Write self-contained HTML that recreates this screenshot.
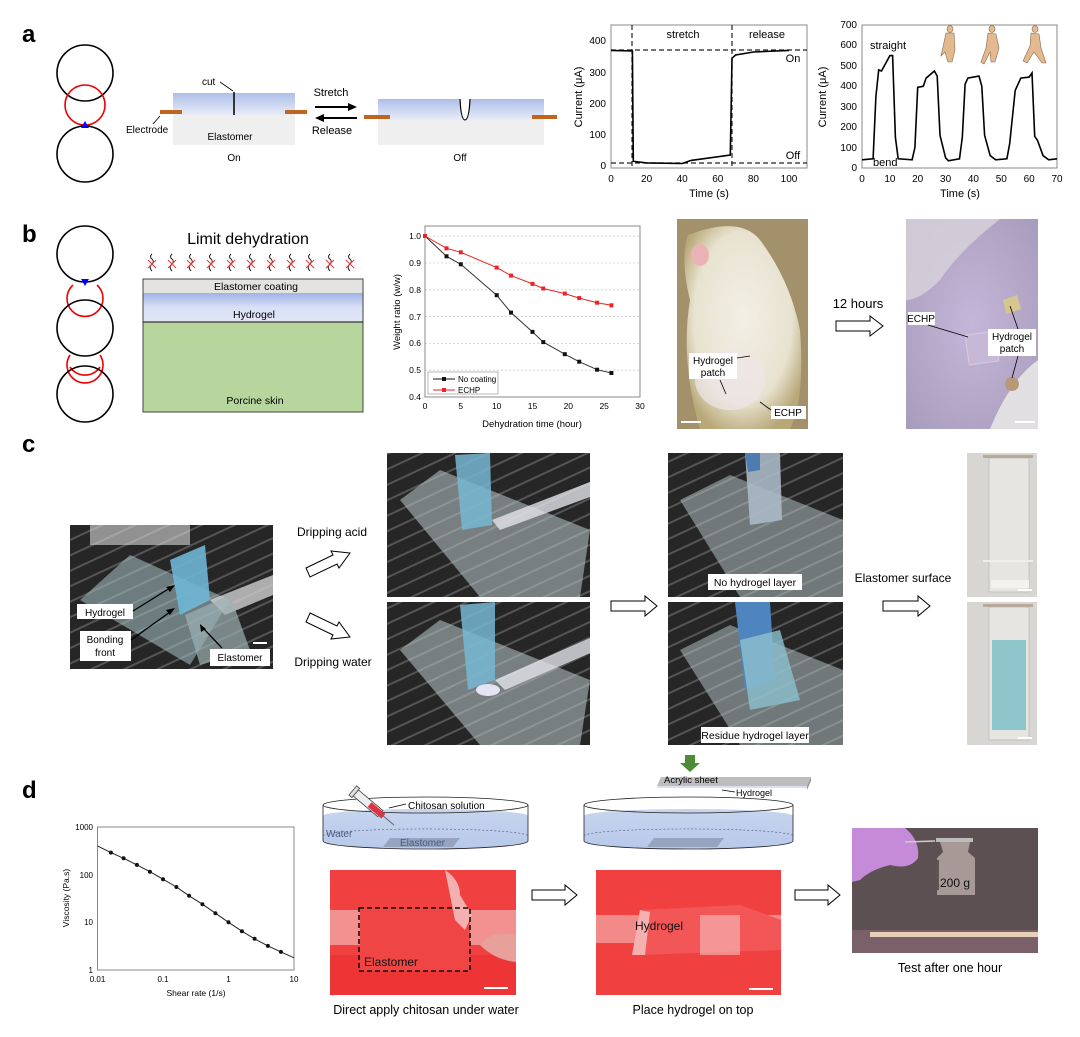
<!DOCTYPE html>
<html><head><meta charset="utf-8"><style>
html,body{margin:0;padding:0;background:#fff;}
svg{display:block;font-family:"Liberation Sans",Arial,sans-serif;}
</style></head><body>
<svg width="1080" height="1037" viewBox="0 0 1080 1037" xmlns="http://www.w3.org/2000/svg">
<defs>
<linearGradient id="gel" x1="0" y1="0" x2="0" y2="1"><stop offset="0" stop-color="#aebfe8"/><stop offset="1" stop-color="#e8ecf8"/></linearGradient>
<linearGradient id="gel2" x1="0" y1="0" x2="0" y2="1"><stop offset="0" stop-color="#9fb3e6"/><stop offset="0.5" stop-color="#d9e0f5"/><stop offset="1" stop-color="#e3e7f7"/></linearGradient>
<pattern id="stripes" width="14" height="14" patternUnits="userSpaceOnUse" patternTransform="rotate(-25)"><rect width="14" height="14" fill="#262626"/><rect width="14" height="2" fill="#555"/></pattern>
<radialGradient id="rat" cx="0.5" cy="0.45" r="0.6"><stop offset="0" stop-color="#f2efe6"/><stop offset="0.7" stop-color="#e8e2d0"/><stop offset="1" stop-color="#b8a878"/></radialGradient>
<radialGradient id="skin" cx="0.5" cy="0.5" r="0.7"><stop offset="0" stop-color="#c4b6d8"/><stop offset="1" stop-color="#a89cbc"/></radialGradient>
<linearGradient id="water" x1="0" y1="0" x2="0" y2="1"><stop offset="0" stop-color="#c9d6ee"/><stop offset="1" stop-color="#b7c8ea"/></linearGradient>
</defs>

<!-- ===== PANEL A ===== -->
<text x="22" y="42" font-size="24" font-weight="bold">a</text>
<circle cx="85" cy="73" r="28" fill="none" stroke="#000" stroke-width="1.6"/>
<circle cx="85" cy="105" r="20" fill="none" stroke="#e00" stroke-width="1.6"/>
<circle cx="85" cy="154" r="28" fill="none" stroke="#000" stroke-width="1.6"/>
<polygon points="81,128 89,128 85,121" fill="#00f"/>

<rect x="173" y="93" width="122" height="22" fill="url(#gel)"/>
<rect x="173" y="115" width="122" height="30" fill="#efefef"/>
<rect x="160" y="110" width="22" height="4" fill="#c0641e"/>
<rect x="285" y="110" width="22" height="4" fill="#c0641e"/>
<line x1="234" y1="92" x2="234" y2="115" stroke="#000" stroke-width="1.5"/>
<text x="202" y="85" font-size="10">cut</text>
<line x1="220" y1="82" x2="233" y2="91" stroke="#000" stroke-width="0.8"/>
<text x="126" y="133" font-size="10">Electrode</text>
<line x1="153" y1="124" x2="160" y2="116" stroke="#000" stroke-width="0.8"/>
<text x="230" y="140" font-size="10" text-anchor="middle">Elastomer</text>
<text x="234" y="161" font-size="10" text-anchor="middle">On</text>
<text x="331" y="96" font-size="11" text-anchor="middle">Stretch</text>
<line x1="315" y1="107" x2="350" y2="107" stroke="#000" stroke-width="2"/><polygon points="348,103 357,107 348,111"/>
<line x1="322" y1="118" x2="357" y2="118" stroke="#000" stroke-width="2"/><polygon points="324,114 315,118 324,122"/>
<text x="332" y="134" font-size="11" text-anchor="middle">Release</text>
<rect x="378" y="99" width="166" height="21" fill="url(#gel)"/>
<rect x="378" y="120" width="166" height="25" fill="#efefef"/>
<rect x="364" y="115" width="26" height="4" fill="#c0641e"/>
<rect x="532" y="115" width="25" height="4" fill="#c0641e"/>
<path d="M460,99 Q461,120 465,120 Q469,120 470,99" fill="#fff" stroke="#000" stroke-width="1.2"/>
<text x="460" y="161" font-size="10" text-anchor="middle">Off</text>

<!-- chart a1 -->
<g font-size="10">
<rect x="611" y="25" width="196" height="143" fill="none" stroke="#888" stroke-width="1"/>
<g text-anchor="middle"><text x="611" y="182">0</text><text x="646.6" y="182">20</text><text x="682.2" y="182">40</text><text x="717.8" y="182">60</text><text x="753.4" y="182">80</text><text x="789" y="182">100</text></g>
<g text-anchor="end"><text x="606" y="169">0</text><text x="606" y="138">100</text><text x="606" y="107">200</text><text x="606" y="76">300</text><text x="606" y="44">400</text></g>
<text x="709" y="197" font-size="11" text-anchor="middle">Time (s)</text>
<text transform="translate(582,97) rotate(-90)" font-size="11" text-anchor="middle">Current (μA)</text>
<line x1="632" y1="25" x2="632" y2="168" stroke="#222" stroke-dasharray="5,3" stroke-width="1.2"/>
<line x1="732" y1="25" x2="732" y2="168" stroke="#222" stroke-dasharray="5,3" stroke-width="1.2"/>
<line x1="611" y1="50" x2="807" y2="50" stroke="#222" stroke-dasharray="5,3" stroke-width="1.2"/>
<line x1="611" y1="163" x2="807" y2="163" stroke="#222" stroke-dasharray="5,3" stroke-width="1.2"/>
<polyline fill="none" stroke="#000" stroke-width="1.6" points="611,50.4 632.4,51 633.3,161.3 646.6,162.9 682.2,163.5 691.1,160.4 730.3,155 732,58.2 735.6,55 753.4,52 789,50.4"/>
<text x="683" y="38" font-size="11" text-anchor="middle">stretch</text>
<text x="767" y="38" font-size="11" text-anchor="middle">release</text>
<text x="793" y="62" font-size="11" text-anchor="middle">On</text>
<text x="793" y="159" font-size="11" text-anchor="middle">Off</text>
</g>

<!-- chart a2 -->
<g font-size="10">
<rect x="862" y="25" width="195" height="143" fill="none" stroke="#888" stroke-width="1"/>
<g text-anchor="middle"><text x="862" y="182">0</text><text x="889.9" y="182">10</text><text x="917.7" y="182">20</text><text x="945.6" y="182">30</text><text x="973.4" y="182">40</text><text x="1001.3" y="182">50</text><text x="1029.2" y="182">60</text><text x="1057" y="182">70</text></g>
<g text-anchor="end"><text x="857" y="171">0</text><text x="857" y="151">100</text><text x="857" y="130">200</text><text x="857" y="110">300</text><text x="857" y="89">400</text><text x="857" y="69">500</text><text x="857" y="48">600</text><text x="857" y="28">700</text></g>
<text x="960" y="197" font-size="11" text-anchor="middle">Time (s)</text>
<text transform="translate(826,97) rotate(-90)" font-size="11" text-anchor="middle">Current (μA)</text>
<polyline fill="none" stroke="#000" stroke-width="1.6" points="862,159.8 873.1,158.8 875.9,96.5 878.7,69.9 881.5,71 884.3,65.9 889.9,55.6 892.6,55.6 895.4,137.4 898.2,158.8 912.1,159.8 914.9,147.6 917.7,87.3 923.3,86.3 926.1,78.1 934.4,71 937.2,76.1 940,135.3 945.6,157.8 948.4,160.8 959.5,158.8 962.3,137.4 965.1,84.2 967.9,78.1 979,76.1 981.8,86.3 984.6,135.3 990.2,155.7 995.7,159.8 1006.9,158.8 1009.7,143.5 1015.2,90.4 1020.8,78.1 1029.2,77.1 1032,73 1034.7,136.3 1037.5,140.4 1043.1,155.7 1048.7,159.8 1057,158.8"/>
<text x="870" y="49" font-size="11">straight</text>
<text x="873" y="166" font-size="11">bend</text>
<g fill="#e3b98f" stroke="#8a6a4a" stroke-width="0.6">
<ellipse cx="950" cy="29" rx="3" ry="3.5"/><path d="M946,33 L954,33 L955,50 L952,62 L948,62 L945,52 L941,56 Z"/>
<ellipse cx="992" cy="29" rx="3" ry="3.5"/><path d="M988,33 L996,34 L999,48 L995,62 L991,62 L990,52 L984,64 L981,62 L986,48 Z"/>
<ellipse cx="1035" cy="29" rx="3" ry="3.5"/><path d="M1031,33 L1039,34 L1041,48 L1046,63 L1042,63 L1034,52 L1027,63 L1023,61 L1030,46 Z"/>
</g>
</g>

<!-- ===== PANEL B ===== -->
<text x="22" y="242" font-size="24" font-weight="bold">b</text>
<circle cx="85" cy="254" r="28" fill="none" stroke="#000" stroke-width="1.6"/>
<path d="M97,285 A18,18 0 1 1 73,285" fill="none" stroke="#e00" stroke-width="1.6"/>
<circle cx="85" cy="328" r="28" fill="none" stroke="#000" stroke-width="1.6"/>
<path d="M100,355 A18,18 0 1 1 70,355 M70,367 A18,18 0 0 0 100,367" fill="none" stroke="#e00" stroke-width="1.6"/>
<circle cx="85" cy="394" r="28" fill="none" stroke="#000" stroke-width="1.6"/>
<polygon points="81,279 89,279 85,286" fill="#00f"/>
<text x="248" y="244" font-size="16" text-anchor="middle">Limit dehydration</text>
<g fill="none" stroke-width="1">
<g stroke="#222"><path d="M152,254 q-3,3 0,5 q3,3 -1,6 q-2,3 1,6"/><path d="M172,254 q-3,3 0,5 q3,3 -1,6 q-2,3 1,6"/><path d="M191,254 q-3,3 0,5 q3,3 -1,6 q-2,3 1,6"/><path d="M211,254 q-3,3 0,5 q3,3 -1,6 q-2,3 1,6"/><path d="M231,254 q-3,3 0,5 q3,3 -1,6 q-2,3 1,6"/><path d="M251,254 q-3,3 0,5 q3,3 -1,6 q-2,3 1,6"/><path d="M271,254 q-3,3 0,5 q3,3 -1,6 q-2,3 1,6"/><path d="M291,254 q-3,3 0,5 q3,3 -1,6 q-2,3 1,6"/><path d="M310,254 q-3,3 0,5 q3,3 -1,6 q-2,3 1,6"/><path d="M330,254 q-3,3 0,5 q3,3 -1,6 q-2,3 1,6"/><path d="M350,254 q-3,3 0,5 q3,3 -1,6 q-2,3 1,6"/></g>
<g stroke="#e33"><path d="M148,260 l8,8 M156,260 l-8,8"/><path d="M168,260 l8,8 M176,260 l-8,8"/><path d="M187,260 l8,8 M195,260 l-8,8"/><path d="M207,260 l8,8 M215,260 l-8,8"/><path d="M227,260 l8,8 M235,260 l-8,8"/><path d="M247,260 l8,8 M255,260 l-8,8"/><path d="M267,260 l8,8 M275,260 l-8,8"/><path d="M287,260 l8,8 M295,260 l-8,8"/><path d="M306,260 l8,8 M314,260 l-8,8"/><path d="M326,260 l8,8 M334,260 l-8,8"/><path d="M346,260 l8,8 M354,260 l-8,8"/></g>
</g>
<rect x="143" y="279" width="220" height="14" fill="#e4e3df"/>
<rect x="143" y="293" width="220" height="29" fill="url(#gel2)"/>
<rect x="143" y="322" width="220" height="90" fill="#b6d69d"/>
<rect x="143" y="279" width="220" height="133" fill="none" stroke="#444" stroke-width="1"/>
<line x1="143" y1="322" x2="363" y2="322" stroke="#333" stroke-width="1.2"/>
<text x="256" y="290" font-size="10.5" text-anchor="middle">Elastomer coating</text>
<text x="254" y="318" font-size="10.5" text-anchor="middle">Hydrogel</text>
<text x="255" y="404" font-size="10.5" text-anchor="middle">Porcine skin</text>

<!-- chart b -->
<g font-size="8.5">
<g stroke="#ccc" stroke-dasharray="2,2" stroke-width="0.8"><line x1="425" y1="370.2" x2="640" y2="370.2"/><line x1="425" y1="343.4" x2="640" y2="343.4"/><line x1="425" y1="316.6" x2="640" y2="316.6"/><line x1="425" y1="289.8" x2="640" y2="289.8"/><line x1="425" y1="263" x2="640" y2="263"/><line x1="425" y1="236.2" x2="640" y2="236.2"/></g>
<rect x="425" y="226" width="215" height="171" fill="none" stroke="#888" stroke-width="1"/>
<g text-anchor="end"><text x="421" y="400">0.4</text><text x="421" y="373">0.5</text><text x="421" y="346">0.6</text><text x="421" y="320">0.7</text><text x="421" y="293">0.8</text><text x="421" y="266">0.9</text><text x="421" y="239">1.0</text></g>
<g text-anchor="middle"><text x="425" y="409">0</text><text x="460.8" y="409">5</text><text x="496.7" y="409">10</text><text x="532.5" y="409">15</text><text x="568.3" y="409">20</text><text x="604.2" y="409">25</text><text x="640" y="409">30</text></g>
<text x="532" y="427" font-size="9.5" text-anchor="middle">Dehydration time (hour)</text>
<text transform="translate(400,312) rotate(-90)" font-size="9.5" text-anchor="middle">Weight ratio (w/w)</text>
<polyline fill="none" stroke="#333" stroke-width="1" points="425,236 446.5,256.3 460.8,264.3 496.7,295.2 511,312.6 532.5,331.9 543.3,342.1 564.8,354.2 579.2,361.7 597.1,369.7 611.4,373"/>
<polyline fill="none" stroke="#e22" stroke-width="1" points="425,236 446.5,248.3 460.8,252.3 496.7,267.6 511,275.6 532.5,283.9 543.3,288.5 564.8,293.6 579.2,298.1 597.1,302.7 611.4,305.3"/>
<g fill="#111"><rect x="444.5" y="254.3" width="4" height="4"/><rect x="458.8" y="262.3" width="4" height="4"/><rect x="494.7" y="293.2" width="4" height="4"/><rect x="509" y="310.6" width="4" height="4"/><rect x="530.5" y="329.9" width="4" height="4"/><rect x="541.3" y="340.1" width="4" height="4"/><rect x="562.8" y="352.2" width="4" height="4"/><rect x="577.2" y="359.7" width="4" height="4"/><rect x="595.1" y="367.7" width="4" height="4"/><rect x="609.4" y="371" width="4" height="4"/></g>
<g fill="#e22"><rect x="423" y="234" width="4" height="4"/><rect x="444.5" y="246.3" width="4" height="4"/><rect x="458.8" y="250.3" width="4" height="4"/><rect x="494.7" y="265.6" width="4" height="4"/><rect x="509" y="273.6" width="4" height="4"/><rect x="530.5" y="281.9" width="4" height="4"/><rect x="541.3" y="286.5" width="4" height="4"/><rect x="562.8" y="291.6" width="4" height="4"/><rect x="577.2" y="296.1" width="4" height="4"/><rect x="595.1" y="300.7" width="4" height="4"/><rect x="609.4" y="303.3" width="4" height="4"/></g>
<rect x="428" y="372" width="70" height="22" fill="#fff" stroke="#888" stroke-width="0.6"/>
<line x1="433" y1="379" x2="455" y2="379" stroke="#111"/><rect x="442" y="377" width="4" height="4" fill="#111"/>
<text x="458" y="382" font-size="8">No coating</text>
<line x1="433" y1="390" x2="455" y2="390" stroke="#e22"/><rect x="442" y="388" width="4" height="4" fill="#e22"/>
<text x="458" y="393" font-size="8">ECHP</text>
</g>

<!-- b photos -->
<rect x="677" y="219" width="131" height="210" fill="#a2916a"/>
<path d="M688,235 Q740,215 760,240 Q790,280 800,330 Q805,400 790,429 L700,429 Q680,360 690,300 Q680,260 688,235 Z" fill="url(#rat)"/>
<ellipse cx="700" cy="255" rx="9" ry="11" fill="#e9b3b5"/>
<ellipse cx="730" cy="380" rx="35" ry="30" fill="#eee6e8" opacity="0.7"/>
<rect x="689" y="353" width="48" height="26" fill="#fff"/>
<text x="713" y="364" font-size="10" text-anchor="middle">Hydrogel</text>
<text x="713" y="376" font-size="10" text-anchor="middle">patch</text>
<line x1="737" y1="358" x2="750" y2="356" stroke="#000" stroke-width="0.8"/>
<line x1="720" y1="380" x2="726" y2="394" stroke="#000" stroke-width="0.8"/>
<rect x="771" y="406" width="35" height="13" fill="#fff"/>
<text x="788" y="416" font-size="10" text-anchor="middle">ECHP</text>
<line x1="760" y1="402" x2="771" y2="410" stroke="#000" stroke-width="0.8"/>
<rect x="681" y="421" width="20" height="2" fill="#fff"/>

<text x="858" y="308" font-size="13" text-anchor="middle">12 hours</text>
<path d="M836,321 L870,321 L870,316 L883,326 L870,336 L870,331 L836,331 Z" fill="#fff" stroke="#000" stroke-width="1"/>

<rect x="906" y="219" width="132" height="210" fill="url(#skin)"/>
<path d="M906,219 L1000,219 Q960,250 940,280 Q920,300 906,300 Z" fill="#d8d4dc" opacity="0.8"/>
<path d="M990,429 Q1010,380 1038,360 L1038,429 Z" fill="#e8e6e6" opacity="0.9"/>
<path d="M1003,300 l14,-5 l4,14 l-15,5 Z" fill="#d6c690"/>
<rect x="967" y="333" width="30" height="30" fill="#c8b8d8" stroke="#d9c9e0" transform="rotate(-8 982 348)"/>
<circle cx="1012" cy="384" r="7" fill="#b89a7a"/>
<rect x="908" y="312" width="27" height="13" fill="#fff"/>
<text x="921" y="322" font-size="10" text-anchor="middle">ECHP</text>
<line x1="928" y1="325" x2="968" y2="337" stroke="#000" stroke-width="0.8"/>
<rect x="988" y="329" width="48" height="27" fill="#fff"/>
<text x="1012" y="340" font-size="10" text-anchor="middle">Hydrogel</text>
<text x="1012" y="352" font-size="10" text-anchor="middle">patch</text>
<line x1="1010" y1="306" x2="1018" y2="329" stroke="#000" stroke-width="0.8"/>
<line x1="1018" y1="356" x2="1012" y2="378" stroke="#000" stroke-width="0.8"/>
<rect x="1015" y="421" width="20" height="2" fill="#fff"/>

<!-- ===== PANEL C ===== -->
<text x="22" y="452" font-size="24" font-weight="bold">c</text>
<!-- left photo -->
<rect x="70" y="525" width="203" height="144" fill="url(#stripes)"/>
<rect x="90" y="525" width="100" height="20" fill="#d8d8d8" opacity="0.6"/>
<polygon points="80,600 130,555 230,600 190,665" fill="#a6c2c8" opacity="0.55"/>
<polygon points="210,600 273,575 273,595 225,615" fill="#d0d0d0" opacity="0.8"/>
<polygon points="170,560 205,545 210,600 180,615" fill="#6fb6d6" opacity="0.9"/>
<polygon points="185,615 230,595 250,650 200,665" fill="#9db0b4" opacity="0.7"/>
<rect x="77" y="604" width="56" height="15" fill="#fff"/><text x="105" y="616" font-size="10" text-anchor="middle">Hydrogel</text>
<rect x="80" y="631" width="51" height="30" fill="#fff"/><text x="105" y="643" font-size="10" text-anchor="middle">Bonding</text><text x="105" y="656" font-size="10" text-anchor="middle">front</text>
<rect x="210" y="649" width="60" height="17" fill="#fff"/><text x="240" y="661" font-size="10" text-anchor="middle">Elastomer</text>
<g stroke="#000" stroke-width="1.3"><line x1="133" y1="611" x2="170" y2="588"/><line x1="131" y1="640" x2="170" y2="612"/><line x1="222" y1="648" x2="203" y2="628"/></g>
<polygon points="175,585 166,587 170,592"/><polygon points="175,608 166,610 170,615"/><polygon points="200,624 201,632 206,629"/>
<rect x="253" y="642" width="14" height="2" fill="#fff"/>

<text x="332" y="536" font-size="12" text-anchor="middle">Dripping acid</text>
<text x="333" y="666" font-size="12" text-anchor="middle">Dripping water</text>
<path d="M306,568 L333,555 L331,551 L350,553 L339,568 L337,564 L310,577 Z" fill="#fff" stroke="#000" stroke-width="1"/>
<path d="M310,613 L337,626 L339,622 L350,637 L331,639 L333,635 L306,622 Z" fill="#fff" stroke="#000" stroke-width="1"/>

<!-- middle column -->
<rect x="387" y="453" width="203" height="144" fill="url(#stripes)"/>
<polygon points="400,500 440,470 590,530 580,597 480,597" fill="#b9c9cc" opacity="0.55"/>
<polygon points="455,455 490,453 492,525 462,530" fill="#77b7d3" opacity="0.85"/>
<polygon points="492,520 590,482 590,497 500,530" fill="#e2e4ea" opacity="0.8"/>
<rect x="387" y="602" width="203" height="143" fill="url(#stripes)"/>
<polygon points="400,650 440,620 590,680 580,745 480,745" fill="#b9c9cc" opacity="0.55"/>
<polygon points="460,605 495,602 495,680 468,690" fill="#77b7d3" opacity="0.85"/>
<polygon points="495,680 590,638 590,653 505,690" fill="#e2e4ea" opacity="0.8"/>
<ellipse cx="488" cy="690" rx="12" ry="6" fill="#eef" opacity="0.9"/>

<path d="M611,601 L645,601 L645,596 L657,606 L645,616 L645,611 L611,611 Z" fill="#fff" stroke="#000" stroke-width="1"/>

<!-- third column -->
<rect x="668" y="453" width="175" height="144" fill="url(#stripes)"/>
<polygon points="680,500 730,475 843,520 843,597 740,597" fill="#b9c9cc" opacity="0.5"/>
<polygon points="745,453 780,453 782,520 750,525" fill="#aab9c6" opacity="0.9"/>
<polygon points="745,453 760,453 760,470 748,472" fill="#4d7cb0"/>
<rect x="708" y="574" width="94" height="16" fill="#fff"/><text x="755" y="586" font-size="10.5" text-anchor="middle">No hydrogel layer</text>
<rect x="668" y="602" width="175" height="143" fill="url(#stripes)"/>
<polygon points="680,650 730,625 843,670 843,745 740,745" fill="#b9c9cc" opacity="0.5"/>
<polygon points="735,602 770,602 775,680 745,690" fill="#4f85bf"/>
<polygon points="740,640 780,630 800,700 750,710" fill="#8cc0cf" opacity="0.8"/>
<rect x="701" y="727" width="108" height="16" fill="#fff"/><text x="755" y="739" font-size="10.5" text-anchor="middle">Residue hydrogel layer</text>

<text x="903" y="582" font-size="12" text-anchor="middle">Elastomer surface</text>
<path d="M883,601 L918,601 L918,596 L930,606 L918,616 L918,611 L883,611 Z" fill="#fff" stroke="#000" stroke-width="1"/>

<!-- far right -->
<rect x="967" y="453" width="70" height="144" fill="#d7d6d2"/>
<rect x="989" y="458" width="40" height="134" fill="#e6e5e2" stroke="#bdbcb8" stroke-width="0.8"/>
<rect x="983" y="455" width="50" height="3" fill="#b8aa98"/>
<rect x="983" y="560" width="50" height="2" fill="#eee"/>
<rect x="991" y="580" width="38" height="8" fill="#f2f2ee"/>
<rect x="1018" y="589" width="14" height="2" fill="#fff"/>
<rect x="967" y="602" width="70" height="143" fill="#d7d6d2"/>
<rect x="989" y="607" width="40" height="133" fill="#e6e5e2" stroke="#bdbcb8" stroke-width="0.8"/>
<rect x="983" y="604" width="50" height="3" fill="#b8aa98"/>
<rect x="992" y="640" width="34" height="90" fill="#8fc6cc"/>
<rect x="1018" y="737" width="14" height="2" fill="#fff"/>

<!-- ===== PANEL D ===== -->
<text x="22" y="798" font-size="24" font-weight="bold">d</text>
<g font-size="8">
<rect x="97.5" y="827" width="196.5" height="143" fill="none" stroke="#888" stroke-width="1"/>
<g text-anchor="end"><text x="93" y="973">1</text><text x="93" y="925">10</text><text x="93" y="878">100</text><text x="93" y="830">1000</text></g>
<g text-anchor="middle"><text x="97.5" y="982">0.01</text><text x="163" y="982">0.1</text><text x="228.5" y="982">1</text><text x="294" y="982">10</text></g>
<text x="196" y="996" font-size="8.5" text-anchor="middle">Shear rate (1/s)</text>
<text transform="translate(69,898) rotate(-90)" font-size="8.5" text-anchor="middle">Viscosity (Pa.s)</text>
<polyline fill="none" stroke="#222" stroke-width="1" points="97.5,845.9 110.9,852.6 123.6,858.3 136.9,864.9 149.9,871.7 163,879.2 176.4,887 189.1,895.8 202.4,904.2 215.4,913.2 228.5,922.3 241.9,931.2 254.6,938.8 267.9,945.9 280.9,951.9 294,957.8"/>
<g fill="#111"><circle cx="110.9" cy="852.6" r="2"/><circle cx="123.6" cy="858.3" r="2"/><circle cx="136.9" cy="864.9" r="2"/><circle cx="149.9" cy="871.7" r="2"/><circle cx="163" cy="879.2" r="2"/><circle cx="176.4" cy="887" r="2"/><circle cx="189.1" cy="895.8" r="2"/><circle cx="202.4" cy="904.2" r="2"/><circle cx="215.4" cy="913.2" r="2"/><circle cx="228.5" cy="922.3" r="2"/><circle cx="241.9" cy="931.2" r="2"/><circle cx="254.6" cy="938.8" r="2"/><circle cx="267.9" cy="945.9" r="2"/><circle cx="280.9" cy="951.9" r="2"/></g>
</g>

<!-- dish 1 -->
<path d="M323,805 L323,841 A102,8 0 0 0 528,841 L528,805 Z" fill="url(#water)"/>
<path d="M323,816 A102,7 0 0 1 528,816 L528,805 A102,8 0 0 0 323,805 Z" fill="#fff"/>
<ellipse cx="425.5" cy="805" rx="102.5" ry="8" fill="none" stroke="#222" stroke-width="0.8"/>
<path d="M323,805 L323,841 A102,8 0 0 0 528,841 L528,805" fill="none" stroke="#222" stroke-width="0.8"/>
<path d="M323,836 A102,7 0 0 1 528,836" fill="none" stroke="#556" stroke-width="0.6" stroke-dasharray="2,2"/>
<polygon points="383,847 453,847 460,838 390,838" fill="#96a4bf"/>
<text x="326" y="837" font-size="10" fill="#4a5a80">Water</text>
<text x="400" y="846" font-size="10" fill="#4a5a80">Elastomer</text>
<g transform="translate(388,820) rotate(40)">
<rect x="-42" y="-4" width="32" height="8" fill="#eee" stroke="#444" stroke-width="0.8"/>
<rect x="-24" y="-3" width="18" height="6" fill="#d34"/>
<rect x="-46" y="-6" width="4" height="12" fill="#ddd" stroke="#444" stroke-width="0.8"/>
<line x1="-10" y1="0" x2="8" y2="0" stroke="#666" stroke-width="1"/>
</g>
<line x1="389" y1="808" x2="406" y2="804" stroke="#000" stroke-width="0.8"/>
<text x="408" y="809" font-size="10">Chitosan solution</text>

<!-- photo d1 -->
<rect x="330" y="870" width="186" height="125" fill="#f04040"/>
<rect x="330" y="910" width="186" height="35" fill="#f39090"/>
<rect x="330" y="955" width="186" height="40" fill="#ee3535"/>
<rect x="360" y="908" width="110" height="63" fill="#f04545"/>
<path d="M445,870 Q460,880 460,895 L472,915 L465,930 L455,920 Z" fill="#f4b0b0"/>
<path d="M480,945 Q490,930 516,935 L516,962 Q495,960 480,945 Z" fill="#e7a19a"/>
<rect x="359" y="908" width="111" height="63" fill="none" stroke="#111" stroke-width="1.6" stroke-dasharray="5,3"/>
<text x="364" y="966" font-size="12" fill="#111">Elastomer</text>
<rect x="484" y="987" width="24" height="2" fill="#fff"/>
<text x="426" y="1014" font-size="12.5" text-anchor="middle">Direct apply chitosan under water</text>

<path d="M532,890 L565,890 L565,885 L577,895 L565,905 L565,900 L532,900 Z" fill="#fff" stroke="#000" stroke-width="1"/>

<!-- dish 2 -->
<polygon points="685,755 695,755 695,763 700,763 690,772 680,763 685,763" fill="#4f8a34"/>
<polygon points="661,777 811,777 807,786 657,786" fill="#bdbdbd"/>
<polygon points="811,777 811,781 807,790 807,786" fill="#999"/>
<rect x="657" y="786" width="150" height="2" fill="#d8e0f2"/>
<text x="664" y="783" font-size="9.5">Acrylic sheet</text>
<line x1="722" y1="790" x2="735" y2="792" stroke="#000" stroke-width="0.8"/>
<text x="736" y="796" font-size="9">Hydrogel</text>
<path d="M584,805 L584,841 A104,8 0 0 0 793,841 L793,805 Z" fill="url(#water)"/>
<path d="M584,816 A104,7 0 0 1 793,816 L793,805 A104,8 0 0 0 584,805 Z" fill="#fff"/>
<ellipse cx="688.5" cy="805" rx="104.5" ry="8" fill="none" stroke="#222" stroke-width="0.8"/>
<path d="M584,805 L584,841 A104,8 0 0 0 793,841 L793,805" fill="none" stroke="#222" stroke-width="0.8"/>
<path d="M584,836 A104,7 0 0 1 793,836" fill="none" stroke="#556" stroke-width="0.6" stroke-dasharray="2,2"/>
<polygon points="647,847 717,847 724,838 654,838" fill="#96a4bf"/>

<!-- photo d2 -->
<rect x="596" y="870" width="185" height="125" fill="#f04040"/>
<rect x="596" y="915" width="185" height="28" fill="#f28a8a"/>
<polygon points="640,910 740,905 781,920 781,950 640,955" fill="#f25656"/>
<polygon points="632,955 640,910 650,912 645,955" fill="#f6b0b0"/>
<rect x="700" y="915" width="40" height="40" fill="#f6c0c0" opacity="0.6"/>
<text x="635" y="930" font-size="12" fill="#111">Hydrogel</text>
<rect x="749" y="988" width="24" height="2" fill="#fff"/>
<text x="693" y="1014" font-size="12.5" text-anchor="middle">Place hydrogel on top</text>

<path d="M795,890 L828,890 L828,885 L840,895 L828,905 L828,900 L795,900 Z" fill="#fff" stroke="#000" stroke-width="1"/>

<!-- photo d3 -->
<rect x="852" y="828" width="186" height="125" fill="#5d5052"/>
<rect x="852" y="930" width="186" height="23" fill="#7a6068"/>
<rect x="870" y="932" width="168" height="5" fill="#e8d0b8"/>
<path d="M852,828 L905,828 Q920,840 918,858 Q910,870 890,865 Q870,870 860,880 L852,882 Z" fill="#c58ad8"/>
<line x1="905" y1="842" x2="935" y2="841" stroke="#ccc" stroke-width="1.5"/>
<rect x="936" y="838" width="37" height="4" fill="#bbb"/>
<path d="M940,842 L970,842 L968,852 L975,858 L975,895 L937,895 L937,858 L943,852 Z" fill="#a79a96"/>
<line x1="938" y1="860" x2="938" y2="890" stroke="#111" stroke-width="1"/>
<text x="940" y="887" font-size="12" fill="#111">200 g</text>
<text x="950" y="972" font-size="12.5" text-anchor="middle">Test after one hour</text>
</svg>
</body></html>
